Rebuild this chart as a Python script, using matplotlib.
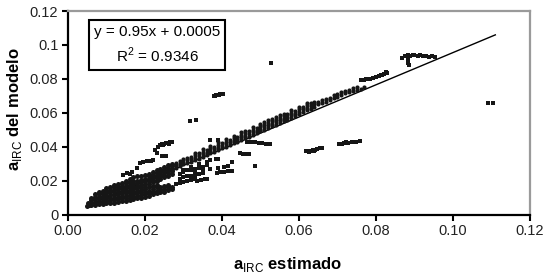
import matplotlib
matplotlib.use('Agg')
import matplotlib.pyplot as plt

plt.rcParams['font.family'] = ['Liberation Sans', 'DejaVu Sans']
plt.rcParams['mathtext.fontset'] = 'custom'
plt.rcParams['mathtext.rm'] = 'Liberation Sans'
plt.rcParams['mathtext.bf'] = 'Liberation Sans:bold'

# trend line from the chart label
SLOPE = 0.95
INTERCEPT = 0.0005
R2 = 0.9346
fit_x = [0.0055, 0.111]

# dense low cluster (estimado, modelo)
core = [
    (0.0050, 0.0052), (0.0052, 0.0065), (0.0055, 0.0058),
    (0.006, 0.0055), (0.006, 0.0070), (0.006, 0.0085), (0.006, 0.0100),
    (0.007, 0.0058), (0.007, 0.0075), (0.007, 0.0090), (0.007, 0.0105), (0.007, 0.0120),
    (0.008, 0.0060), (0.008, 0.0075), (0.008, 0.0090), (0.008, 0.0105), (0.008, 0.0120), (0.008, 0.0130),
    (0.009, 0.0062), (0.009, 0.0080), (0.009, 0.0095), (0.009, 0.0110), (0.009, 0.0125), (0.009, 0.0140),
    (0.010, 0.0065), (0.010, 0.0080), (0.010, 0.0095), (0.010, 0.0110), (0.010, 0.0125), (0.010, 0.0140), (0.010, 0.0155),
    (0.011, 0.0068), (0.011, 0.0085), (0.011, 0.0100), (0.011, 0.0115), (0.011, 0.0130), (0.011, 0.0145), (0.011, 0.0160),
    (0.012, 0.0070), (0.012, 0.0085), (0.012, 0.0100), (0.012, 0.0115), (0.012, 0.0130), (0.012, 0.0145), (0.012, 0.0160), (0.012, 0.0172),
    (0.013, 0.0075), (0.013, 0.0090), (0.013, 0.0105), (0.013, 0.0120), (0.013, 0.0135), (0.013, 0.0150), (0.013, 0.0165), (0.013, 0.0180),
    (0.014, 0.0078), (0.014, 0.0095), (0.014, 0.0110), (0.014, 0.0125), (0.014, 0.0140), (0.014, 0.0155), (0.014, 0.0170), (0.014, 0.0188),
    (0.015, 0.0080), (0.015, 0.0095), (0.015, 0.0110), (0.015, 0.0125), (0.015, 0.0140), (0.015, 0.0155), (0.015, 0.0170), (0.015, 0.0185), (0.015, 0.0200),
    (0.016, 0.0085), (0.016, 0.0100), (0.016, 0.0115), (0.016, 0.0130), (0.016, 0.0145), (0.016, 0.0160), (0.016, 0.0175), (0.016, 0.0190), (0.016, 0.0210),
    (0.017, 0.0090), (0.017, 0.0105), (0.017, 0.0120), (0.017, 0.0135), (0.017, 0.0150), (0.017, 0.0165), (0.017, 0.0180), (0.017, 0.0195), (0.017, 0.0220),
    (0.018, 0.0095), (0.018, 0.0110), (0.018, 0.0125), (0.018, 0.0140), (0.018, 0.0155), (0.018, 0.0170), (0.018, 0.0185), (0.018, 0.0200), (0.018, 0.0225),
    (0.019, 0.0100), (0.019, 0.0115), (0.019, 0.0130), (0.019, 0.0145), (0.019, 0.0160), (0.019, 0.0175), (0.019, 0.0190), (0.019, 0.0205), (0.019, 0.0230),
    (0.020, 0.0105), (0.020, 0.0120), (0.020, 0.0135), (0.020, 0.0150), (0.020, 0.0165), (0.020, 0.0180), (0.020, 0.0195), (0.020, 0.0210), (0.020, 0.0235),
    (0.021, 0.0110), (0.021, 0.0125), (0.021, 0.0140), (0.021, 0.0160), (0.021, 0.0180), (0.021, 0.0195), (0.021, 0.0210), (0.021, 0.0225), (0.021, 0.0240),
    (0.022, 0.0120), (0.022, 0.0135), (0.022, 0.0150), (0.022, 0.0170), (0.022, 0.0190), (0.022, 0.0205), (0.022, 0.0220), (0.022, 0.0235), (0.022, 0.0250),
    (0.023, 0.0125), (0.023, 0.0140), (0.023, 0.0160), (0.023, 0.0175), (0.023, 0.0200), (0.023, 0.0215), (0.023, 0.0230), (0.023, 0.0245), (0.023, 0.0260),
    (0.024, 0.0130), (0.024, 0.0145), (0.024, 0.0165), (0.024, 0.0210), (0.024, 0.0225), (0.024, 0.0240), (0.024, 0.0255), (0.024, 0.0270),
    (0.025, 0.0135), (0.025, 0.0150), (0.025, 0.0170), (0.025, 0.0220), (0.025, 0.0235), (0.025, 0.0250), (0.025, 0.0265), (0.025, 0.0280),
    (0.026, 0.0145), (0.026, 0.0160), (0.026, 0.0175), (0.026, 0.0230), (0.026, 0.0245), (0.026, 0.0260), (0.026, 0.0275), (0.026, 0.0290),
    (0.027, 0.0150), (0.027, 0.0165), (0.027, 0.0240), (0.027, 0.0255), (0.027, 0.0270), (0.027, 0.0285), (0.027, 0.0300),
]

# main band along the trend line
band = [
    (0.028, 0.0275), (0.028, 0.0290), (0.028, 0.0305),
    (0.029, 0.0285), (0.029, 0.0300), (0.029, 0.0315),
    (0.030, 0.0295), (0.030, 0.0310), (0.030, 0.0325),
    (0.031, 0.0305), (0.031, 0.0320), (0.031, 0.0335),
    (0.032, 0.0310), (0.032, 0.0325), (0.032, 0.0340),
    (0.033, 0.0320), (0.033, 0.0335), (0.033, 0.0350), (0.033, 0.0365),
    (0.034, 0.0330), (0.034, 0.0345), (0.034, 0.0360),
    (0.035, 0.0340), (0.035, 0.0355), (0.035, 0.0370), (0.035, 0.0385),
    (0.036, 0.0350), (0.036, 0.0365), (0.036, 0.0380),
    (0.037, 0.0360), (0.037, 0.0375), (0.037, 0.0390), (0.037, 0.0405),
    (0.038, 0.0370), (0.038, 0.0385), (0.038, 0.0400),
    (0.039, 0.0380), (0.039, 0.0395), (0.039, 0.0410), (0.039, 0.0425),
    (0.040, 0.0390), (0.040, 0.0405), (0.040, 0.0420),
    (0.041, 0.0400), (0.041, 0.0415), (0.041, 0.0430), (0.041, 0.0445),
    (0.042, 0.0410), (0.042, 0.0425), (0.042, 0.0440),
    (0.043, 0.0420), (0.043, 0.0435), (0.043, 0.0450), (0.043, 0.0465),
    (0.044, 0.0430), (0.044, 0.0445), (0.044, 0.0460),
    (0.045, 0.0440), (0.045, 0.0455), (0.045, 0.0470), (0.045, 0.0485),
    (0.046, 0.0450), (0.046, 0.0465), (0.046, 0.0480), (0.046, 0.0495),
    (0.047, 0.0460), (0.047, 0.0475), (0.047, 0.0490),
    (0.048, 0.0470), (0.048, 0.0485), (0.048, 0.0500), (0.048, 0.0515),
    (0.049, 0.0480), (0.049, 0.0495), (0.049, 0.0510),
    (0.050, 0.0490), (0.050, 0.0505), (0.050, 0.0520), (0.050, 0.0535),
    (0.051, 0.0500), (0.051, 0.0515), (0.051, 0.0530), (0.051, 0.0545),
    (0.052, 0.0510), (0.052, 0.0525), (0.052, 0.0540), (0.052, 0.0555),
    (0.053, 0.0520), (0.053, 0.0535), (0.053, 0.0550), (0.053, 0.0565),
    (0.054, 0.0530), (0.054, 0.0545), (0.054, 0.0560), (0.054, 0.0575),
    (0.055, 0.0540), (0.055, 0.0555), (0.055, 0.0570), (0.055, 0.0585),
    (0.056, 0.0550), (0.056, 0.0565), (0.056, 0.0580), (0.056, 0.0595),
    (0.057, 0.0560), (0.057, 0.0575), (0.057, 0.0590),
    (0.058, 0.0570), (0.058, 0.0585), (0.058, 0.0600), (0.058, 0.0615),
    (0.059, 0.0580), (0.059, 0.0595), (0.059, 0.0610),
    (0.060, 0.0590), (0.060, 0.0605), (0.060, 0.0620), (0.060, 0.0635),
    (0.061, 0.0605), (0.061, 0.0620), (0.061, 0.0635),
    (0.062, 0.0615), (0.062, 0.0630), (0.062, 0.0645), (0.062, 0.0660),
    (0.063, 0.0625), (0.063, 0.0640), (0.063, 0.0655),
    (0.064, 0.0635), (0.064, 0.0650), (0.064, 0.0665),
    (0.065, 0.0650), (0.065, 0.0665),
    (0.066, 0.0660), (0.066, 0.0675),
    (0.067, 0.0665), (0.067, 0.0680),
    (0.068, 0.0675), (0.068, 0.0690),
    (0.069, 0.0690), (0.069, 0.0705),
    (0.070, 0.0695), (0.070, 0.0710),
    (0.071, 0.0705), (0.071, 0.0720),
    (0.072, 0.0715), (0.072, 0.0730),
    (0.073, 0.0720), (0.073, 0.0735),
    (0.074, 0.0730), (0.074, 0.0745),
    (0.075, 0.0735), (0.075, 0.0750),
    (0.076, 0.0740), (0.077, 0.0750),
]

# scattered groups away from the band
upper = [
    (0.0762, 0.0793), (0.0768, 0.0795), (0.0775, 0.0798), (0.0785, 0.0800), (0.0792, 0.0805),
    (0.0800, 0.0810), (0.0808, 0.0815), (0.0815, 0.0822), (0.0822, 0.0830), (0.0828, 0.0835),
    (0.0812, 0.0825), (0.0825, 0.0838),
    (0.0868, 0.0925), (0.0875, 0.0935), (0.0882, 0.0940), (0.0888, 0.0935), (0.0895, 0.0942),
    (0.0900, 0.0938), (0.0908, 0.0935), (0.0915, 0.0940), (0.0922, 0.0932), (0.0930, 0.0936),
    (0.0938, 0.0930), (0.0945, 0.0932), (0.0952, 0.0928),
    (0.0883, 0.0915), (0.0884, 0.0905), (0.0884, 0.0893), (0.0885, 0.0880),
    (0.0527, 0.0893),
    (0.0378, 0.0696), (0.0383, 0.0699), (0.0388, 0.0702), (0.0393, 0.0705), (0.0398, 0.0708),
    (0.0403, 0.0711), (0.0385, 0.0703), (0.0395, 0.0710),
    (0.0318, 0.0553), (0.0333, 0.0557),
    (0.0235, 0.0400), (0.0240, 0.0410), (0.0245, 0.0413), (0.0250, 0.0418), (0.0255, 0.0420),
    (0.0260, 0.0423), (0.0265, 0.0426), (0.0270, 0.0428), (0.0248, 0.0408), (0.0262, 0.0416),
    (0.0226, 0.0380), (0.0231, 0.0365), (0.0245, 0.0345), (0.0255, 0.0348),
    (0.0187, 0.0303), (0.0195, 0.0310), (0.0205, 0.0315), (0.0215, 0.0318), (0.0220, 0.0320),
    (0.0180, 0.0275), (0.0153, 0.0245), (0.0166, 0.0248), (0.0143, 0.0233), (0.0160, 0.0240),
    (0.0370, 0.0440), (0.0390, 0.0440),
]

lower = [
    (0.0465, 0.0428), (0.0475, 0.0427), (0.0485, 0.0425), (0.0495, 0.0423), (0.0505, 0.0420),
    (0.0515, 0.0418), (0.0525, 0.0415),
    (0.0447, 0.0360), (0.0455, 0.0358), (0.0463, 0.0356), (0.0470, 0.0354),
    (0.0426, 0.0310), (0.0486, 0.0286),
    (0.0618, 0.0372), (0.0624, 0.0374), (0.0630, 0.0376), (0.0636, 0.0379), (0.0642, 0.0382),
    (0.0648, 0.0386), (0.0654, 0.0390), (0.0660, 0.0395), (0.0627, 0.0370), (0.0640, 0.0377),
    (0.0703, 0.0417), (0.0712, 0.0418), (0.0718, 0.0422), (0.0722, 0.0425), (0.0728, 0.0424),
    (0.0738, 0.0426), (0.0748, 0.0427), (0.0758, 0.0432),
    (0.1090, 0.0660), (0.1105, 0.0660),
    (0.0335, 0.0200), (0.0345, 0.0205), (0.0355, 0.0210), (0.0360, 0.0208),
    (0.0387, 0.0245), (0.0395, 0.0250), (0.0405, 0.0252), (0.0415, 0.0255), (0.0425, 0.0257),
    (0.0390, 0.0275), (0.0405, 0.0280), (0.0415, 0.0285),
    (0.0370, 0.0320), (0.0385, 0.0325), (0.0390, 0.0330),
    (0.028, 0.0180), (0.029, 0.0185), (0.030, 0.0190), (0.031, 0.0195), (0.032, 0.0205), (0.033, 0.0210),
    (0.029, 0.0210), (0.030, 0.0220), (0.031, 0.0225), (0.032, 0.0230), (0.033, 0.0235),
    (0.034, 0.0240), (0.035, 0.0245),
    (0.029, 0.0240), (0.030, 0.0250), (0.031, 0.0260), (0.032, 0.0265), (0.033, 0.0270),
    (0.034, 0.0275), (0.035, 0.0280), (0.036, 0.0290), (0.030, 0.0265), (0.032, 0.0280),
    (0.034, 0.0295), (0.036, 0.0310), (0.033, 0.0245), (0.035, 0.0260), (0.037, 0.0270),
]

x_ticks = [0.00, 0.02, 0.04, 0.06, 0.08, 0.10, 0.12]
y_ticks = [0, 0.02, 0.04, 0.06, 0.08, 0.1, 0.12]
y_tick_labels = ['0', '0.02', '0.04', '0.06', '0.08', '0.1', '0.12']

fig = plt.figure(figsize=(5.5, 2.76), dpi=100)
ax = fig.add_axes([0.1236, 0.2228, 0.84, 0.7372])

fit_y = [SLOPE * v + INTERCEPT for v in fit_x]
ax.plot(fit_x, fit_y, color='black', lw=1.0, zorder=1)

dot = '#161616'
cx, cy = zip(*core)
ax.plot(cx, cy, 'o', ms=3.6, color=dot, mew=0, zorder=2)
bx, by = zip(*band)
ax.plot(bx, by, 'o', ms=3.0, color=dot, mew=0, zorder=2)
for pts in (upper, lower):
    px, py = zip(*pts)
    ax.plot(px, py, 's', ms=2.2, color=dot, mew=0, zorder=2)

ax.set_xlim(0, 0.12)
ax.set_ylim(0, 0.12)
ax.set_xticks(x_ticks)
ax.set_xticklabels([f'{t:.2f}' for t in x_ticks])
ax.set_yticks(y_ticks)
ax.set_yticklabels(y_tick_labels)
ax.tick_params(direction='out', length=4, width=1.5, labelsize=10.5, colors='black',
               labelcolor='#222222', pad=3)

for s in ('left', 'bottom'):
    ax.spines[s].set_color('black')
    ax.spines[s].set_linewidth(1.6)
for s in ('top', 'right'):
    ax.spines[s].set_color('#9a9a9a')
    ax.spines[s].set_linewidth(1.6)

ax.set_xlabel(r'$\mathbf{a}_{\mathrm{IRC}}$ estimado', fontsize=12, fontweight='bold')
ax.xaxis.set_label_coords(0.476, -0.2)
ax.set_ylabel(r'$\mathbf{a}_{\mathrm{IRC}}$ del modelo', fontsize=12, fontweight='bold')
ax.yaxis.set_label_coords(-0.095, 0.52)

ax.text(0.193, 0.833, f'y = {SLOPE}x + {INTERCEPT}\n$\\mathrm{{R}}^2$ = {R2}', transform=ax.transAxes,
        ha='center', va='center', fontsize=11, linespacing=1.45, multialignment='center',
        bbox=dict(boxstyle='square,pad=0.3', fc='white', ec='black', lw=1.5))

fig.savefig('out.png', dpi=100)
